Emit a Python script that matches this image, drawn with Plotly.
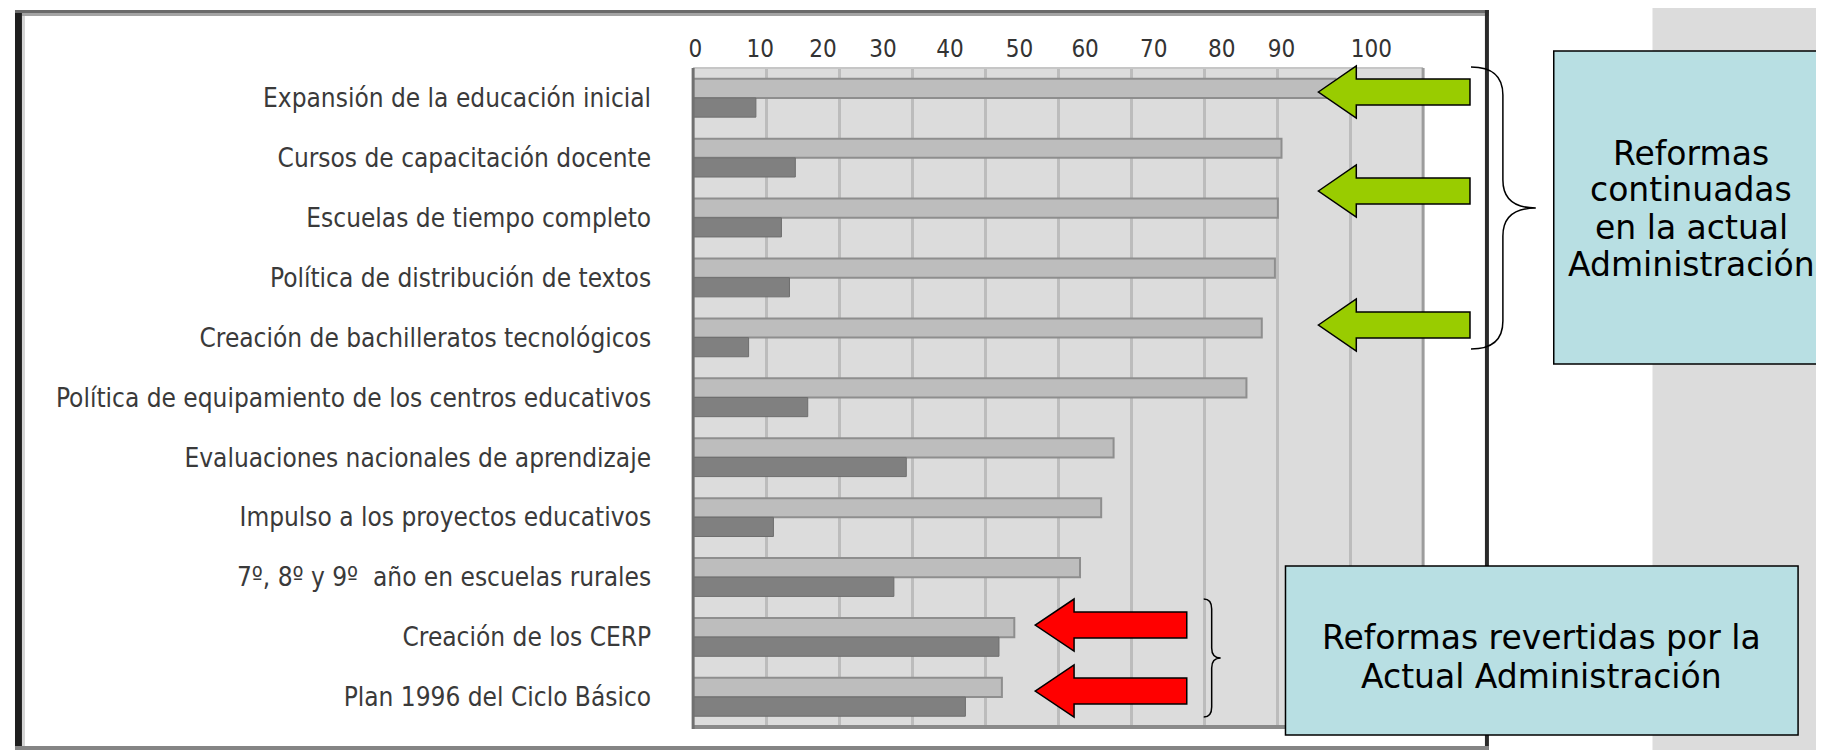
import plotly.graph_objects as go

# the page body keeps its default 8px margin, so the figure is drawn 8px
# in from the window corner; positions below are window pixels
W, H = 1816, 742
OFF = 8

categorias = [
    "Expansión de la educación inicial",
    "Cursos de capacitación docente",
    "Escuelas de tiempo completo",
    "Política de distribución de textos",
    "Creación de bachilleratos tecnológicos",
    "Política de equipamiento de los centros educativos",
    "Evaluaciones nacionales de aprendizaje",
    "Impulso a los proyectos educativos",
    "7º, 8º y 9º  año en escuelas rurales",
    "Creación de los CERP",
    "Plan 1996 del Ciclo Básico",
]
serie_clara = [88, 80.6, 80.1, 79.7, 77.9, 75.8, 57.6, 55.9, 53.0, 44.0, 42.3]
serie_oscura = [8.6, 14.0, 12.1, 13.2, 7.6, 15.7, 29.2, 11.0, 27.5, 41.9, 37.3]
etiquetas_x = ["0", "10", "20", "30", "40", "50", "60", "70", "80", "90", "100"]

# where the (misaligned) printed tick labels sit on the 0-100 grid
pos_etiquetas = [0.3, 9.2, 17.8, 26.0, 35.2, 44.7, 53.7, 63.1, 72.4, 80.6, 92.9]

lineas_caja1 = ["Reformas", "continuadas", "en la actual", "Administración"]
lineas_caja2 = ["Reformas revertidas por la", "Actual Administración"]


def px(x):
    return (x - OFF) / W


def py(y):
    return 1 - (y - OFF) / H


def linea(x0, y0, x1, y1, color, width):
    return dict(type="line", xref="paper", yref="paper",
                x0=px(x0), y0=py(y0), x1=px(x1), y1=py(y1),
                line=dict(color=color, width=width))


def rect(x0, y0, x1, y1, fill, color=None, width=0, layer="above"):
    return dict(type="rect", xref="paper", yref="paper", layer=layer,
                x0=px(x0), y0=py(y1), x1=px(x1), y1=py(y0),
                fillcolor=fill, line=dict(color=color or fill, width=width))


def flecha(tip, base, end, cy, fill, hh=26, sh=13):
    pts = [(tip, cy), (base, cy - hh), (base, cy - sh), (end, cy - sh),
           (end, cy + sh), (base, cy + sh), (base, cy + hh)]
    d = "M " + " L ".join(f"{px(x):.5f},{py(y):.5f}" for x, y in pts) + " Z"
    return dict(type="path", xref="paper", yref="paper", path=d,
                fillcolor=fill, line=dict(color="black", width=1.5))


def llave(x0, xm, xt, top, mid, bot, r):
    p = lambda x, y: f"{px(x):.5f},{py(y):.5f}"
    d = (f"M {p(x0, top)} Q {p(xm, top)} {p(xm, top + r)} L {p(xm, mid - r)} "
         f"Q {p(xm, mid)} {p(xt, mid)} Q {p(xm, mid)} {p(xm, mid + r)} "
         f"L {p(xm, bot - r)} Q {p(xm, bot)} {p(x0, bot)}")
    return dict(type="path", xref="paper", yref="paper", path=d,
                line=dict(color="black", width=1.5))


def texto(x, y, t):
    return dict(xref="paper", yref="paper", x=px(x), y=py(y), text=t,
                showarrow=False, xanchor="center", yanchor="middle",
                font=dict(family="DejaVu Sans", size=33, color="black"))


fig = go.Figure()
fig.add_trace(go.Bar(
    y=categorias, x=serie_clara, orientation="h",
    marker=dict(color="#bdbdbd", line=dict(color="#8e8e8e", width=2)),
))
fig.add_trace(go.Bar(
    y=categorias, x=serie_oscura, orientation="h",
    marker=dict(color="#808080", line=dict(color="#6e6e6e", width=1)),
))

fuente_cond = "Liberation Sans Narrow, DejaVu Sans Condensed, Roboto Condensed, Liberation Sans, sans-serif"

shapes = [
    rect(1652, 0, 1830, 760, "#dcdcdc", layer="below"),
    # marco de la imagen
    rect(10, 10, 17, 760, "#1e1e1e"),
    rect(17, 16, 20, 760, "#d4d4d4"),
    rect(10, 10, 1488, 13, "#6a6a6a"),
    rect(17, 13, 1488, 16, "#a4a4a4"),
    rect(1484, 10, 1488, 760, "#2a2a2a"),
    rect(10, 746, 1488, 750, "#858585"),
    # borde del área del gráfico
    linea(690, 68, 1422, 68, "#c6c6c6", 2),
    linea(1422, 68, 1422, 729, "#9c9c9c", 3),
    linea(690, 727, 1422, 727, "#8a8a8a", 4),
    linea(690, 68, 690, 729, "#707070", 3),
    # flechas
    flecha(1317, 1355, 1469, 92, "#99cc00"),
    flecha(1317, 1355, 1469, 191, "#99cc00"),
    flecha(1317, 1355, 1469, 325, "#99cc00"),
    flecha(1033, 1072, 1185, 625, "#ff0000"),
    flecha(1033, 1072, 1185, 691, "#ff0000"),
    # llaves
    llave(1470, 1502, 1535, 67, 208, 349, 28),
    llave(1202, 1210, 1219, 599, 658, 717, 10),
    # cajas de texto
    rect(1553, 51, 1830, 364, "#b8dfe3", "black", 1.5),
    rect(1284, 566, 1798, 735, "#b8dfe3", "black", 1.5),
]

annotations = [texto(1691, y, t) for y, t in zip([153, 190, 227, 264], lineas_caja1)]
annotations += [texto(1541, y, t) for y, t in zip([637, 676], lineas_caja2)]

fig.update_layout(
    width=W, height=H, autosize=False,
    margin=dict(l=0, r=0, t=0, b=0),
    paper_bgcolor="white", plot_bgcolor="#dcdcdc",
    showlegend=False, barmode="group", bargap=0.36, bargroupgap=0,
    shapes=shapes, annotations=annotations,
    xaxis=dict(
        domain=[px(690), px(1422)], range=[0, 100], side="top",
        tickvals=pos_etiquetas, ticktext=etiquetas_x, showgrid=False,
        minor=dict(tick0=0, dtick=10, showgrid=True, gridcolor="#bcbcbc", gridwidth=3),
        zeroline=False, ticks="", ticklabelstandoff=5,
        tickfont=dict(family=fuente_cond, size=24, color="#333333"),
    ),
    yaxis=dict(
        domain=[py(727), py(68)], autorange="reversed", type="category",
        showgrid=False, zeroline=False, ticks="", ticklabelstandoff=41,
        tickfont=dict(family=fuente_cond, size=26, color="#3a3a3a"),
    ),
)

fig.write_html("out.html")
